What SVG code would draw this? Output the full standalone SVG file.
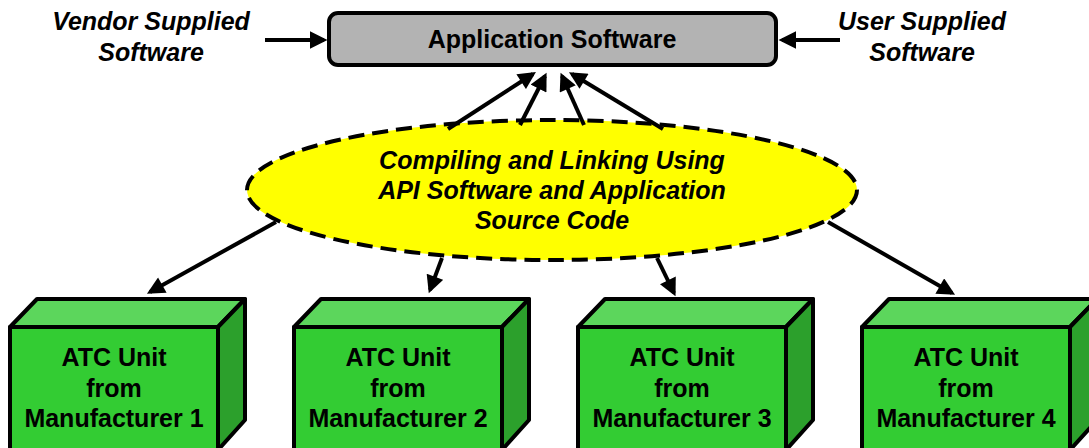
<svg xmlns="http://www.w3.org/2000/svg" width="1089" height="448" viewBox="0 0 1089 448">
<defs>
<style>
text{font-family:"Liberation Sans",Arial,sans-serif;font-weight:bold;font-size:25px;fill:#000;text-anchor:middle}
.it{font-style:italic}
.conn{stroke:#000;stroke-width:4;fill:none;marker-end:url(#ah)}
.front{fill:#33cc33;stroke:#000;stroke-width:4;stroke-linejoin:round}
.top{fill:#5cd65c;stroke:#000;stroke-width:4;stroke-linejoin:round}
.side{fill:#2ca02c;stroke:#000;stroke-width:4;stroke-linejoin:round}
</style>
<marker id="ah" viewBox="0 0 10 10" refX="8" refY="5" markerWidth="4.6" markerHeight="4.4" orient="auto" markerUnits="strokeWidth">
<path d="M0,0 L10,5 L0,10 z" fill="#000"/>
</marker>
</defs>
<rect width="1089" height="448" fill="#fff"/>

<g id="vendor">
<text class="it" x="151" y="30">Vendor Supplied</text>
<text class="it" x="151" y="61">Software</text>
</g>
<g id="user">
<text class="it" x="922" y="30">User Supplied</text>
<text class="it" x="922" y="61">Software</text>
</g>

<g id="app">
<rect x="329" y="13" width="447" height="52" rx="9" fill="#b3b3b3" stroke="#000" stroke-width="4"/>
<text x="552" y="48">Application Software</text>
</g>

<g id="compile">
<ellipse cx="552" cy="190" rx="305" ry="70" fill="#ffff00" stroke="#000" stroke-width="4" stroke-dasharray="16,8"/>
<text class="it" x="552" y="169">Compiling and Linking Using</text>
<text class="it" x="552" y="199">API Software and Application</text>
<text class="it" x="552" y="229">Source Code</text>
</g>

<g id="connectors">
<line class="conn" x1="265" y1="40" x2="324" y2="40"/>
<line class="conn" x1="840" y1="40" x2="782" y2="40"/>
<line class="conn" x1="448" y1="129" x2="533" y2="74"/>
<line class="conn" x1="520" y1="125" x2="545" y2="76"/>
<line class="conn" x1="584" y1="125" x2="562" y2="76"/>
<line class="conn" x1="663" y1="129" x2="572" y2="74"/>
<line class="conn" x1="276" y1="222" x2="150" y2="292"/>
<line class="conn" x1="442" y1="258" x2="430" y2="290"/>
<line class="conn" x1="657" y1="258" x2="674" y2="293"/>
<line class="conn" x1="828" y1="222" x2="952" y2="293"/>
</g>

<g id="unit1">
<polygon class="top" points="10,327 37,299 245,299 218,327"/>
<polygon class="side" points="218,327 245,299 245,420 218,450"/>
<rect class="front" x="10" y="327" width="208" height="125"/>
<text x="114" y="366">ATC Unit</text>
<text x="114" y="397">from</text>
<text x="114" y="427">Manufacturer 1</text>
</g>
<g id="unit2">
<polygon class="top" points="294,327 321,299 529,299 502,327"/>
<polygon class="side" points="502,327 529,299 529,420 502,450"/>
<rect class="front" x="294" y="327" width="208" height="125"/>
<text x="398" y="366">ATC Unit</text>
<text x="398" y="397">from</text>
<text x="398" y="427">Manufacturer 2</text>
</g>
<g id="unit3">
<polygon class="top" points="578,327 605,299 813,299 786,327"/>
<polygon class="side" points="786,327 813,299 813,420 786,450"/>
<rect class="front" x="578" y="327" width="208" height="125"/>
<text x="682" y="366">ATC Unit</text>
<text x="682" y="397">from</text>
<text x="682" y="427">Manufacturer 3</text>
</g>
<g id="unit4">
<polygon class="top" points="862,327 889,299 1097,299 1070,327"/>
<polygon class="side" points="1070,327 1097,299 1097,420 1070,450"/>
<rect class="front" x="862" y="327" width="208" height="125"/>
<text x="966" y="366">ATC Unit</text>
<text x="966" y="397">from</text>
<text x="966" y="427">Manufacturer 4</text>
</g>
</svg>
